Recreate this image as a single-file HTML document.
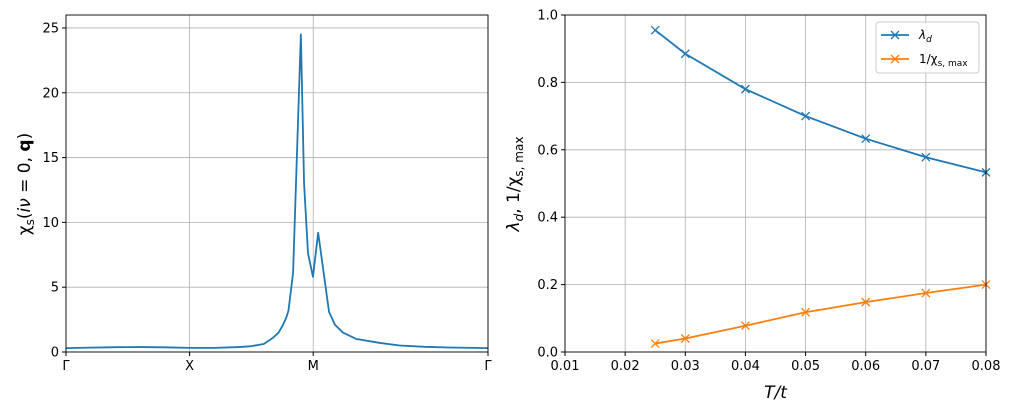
<!DOCTYPE html>
<html><head><meta charset="utf-8"><style>
body{margin:0;background:#fff;}
svg{display:block;font-family:"DejaVu Sans","Liberation Sans",sans-serif;}
</style></head><body>
<svg id="fig" width="1011" height="411"></svg>
<script>
// Left chart data: path coordinate (Γ=0, X=1, M=2, Γ=2+√2) and susceptibility
const leftPath = [0,0.2,0.4,0.6,0.8,1.0,1.2,1.4,1.5,1.6,1.675,1.72,1.756,1.78,1.80,1.837,1.90,1.926,1.958,1.998,2.04,2.128,2.176,2.24,2.35,2.54,2.7,2.9,3.1,3.3,3.414];
const leftChi  = [0.3,0.34,0.37,0.38,0.36,0.32,0.32,0.38,0.45,0.62,1.1,1.5,2.1,2.6,3.2,6.1,24.5,13,7.6,5.8,9.2,3.1,2.1,1.5,1.0,0.7,0.5,0.4,0.35,0.32,0.3];
const leftTickPos = [0,1,2,3.414];
const leftTickLabels = ["Γ","X","M","Γ"];
const leftYTicks = [0,5,10,15,20,25];
// Right chart data
const temps = [0.025,0.03,0.04,0.05,0.06,0.07,0.08];
const lambdaD = [0.955,0.885,0.78,0.70,0.633,0.578,0.533];
const invChi = [0.025,0.04,0.078,0.118,0.148,0.175,0.2];
const rightXTicks = [0.01,0.02,0.03,0.04,0.05,0.06,0.07,0.08];
const rightYTicks = [0,0.2,0.4,0.6,0.8,1.0];

const NS="http://www.w3.org/2000/svg";
const svg=document.getElementById('fig');
function mk(tag,attrs,parent){const e=document.createElementNS(NS,tag);for(const k in attrs)e.setAttribute(k,attrs[k]);(parent||svg).appendChild(e);return e;}

// Left axes
const L={x0:66,x1:488,y0:352,y1:15};
const lx=v=>L.x0+(v-0)/(3.414-0)*(L.x1-L.x0);
const ly=v=>L.y0-(v-0)/26*(L.y0-L.y1);
const gL=mk('g',{});


leftTickPos.forEach((p,i)=>{
  const gl=mk('line',{x1:lx(p),x2:lx(p),y1:L.y1,y2:L.y0,stroke:'#b0b0b0','stroke-width':0.8},gL);
  
  
  mk('line',{x1:lx(p),x2:lx(p),y1:L.y0,y2:L.y0+4,stroke:'#000'},gL);
  const t=mk('text',{x:lx(p),y:L.y0+18,'text-anchor':'middle','font-size':13},gL);
  t.textContent=leftTickLabels[i];
  
  
});
leftYTicks.forEach(v=>{
  const gl=mk('line',{x1:L.x0,x2:L.x1,y1:ly(v),y2:ly(v),stroke:'#b0b0b0','stroke-width':0.8},gL);
  
  
  mk('line',{x1:L.x0-4,x2:L.x0,y1:ly(v),y2:ly(v),stroke:'#000'},gL);
  const t=mk('text',{x:L.x0-7,y:ly(v)+4.5,'text-anchor':'end','font-size':13},gL);
  t.textContent=String(v);
  
  
});
const lp=mk('polyline',{points:leftPath.map((p,i)=>lx(p)+','+ly(leftChi[i])).join(' '),fill:'none',stroke:'#1f77b4','stroke-width':1.8,'stroke-linejoin':'round'},gL);


const lf=mk('rect',{x:L.x0,y:L.y1,width:L.x1-L.x0,height:L.y0-L.y1,fill:'none',stroke:'#000','stroke-width':0.9},gL);


const lyt=mk('text',{transform:'translate(30,184) rotate(-90)','text-anchor':'middle','font-size':17},gL);
lyt.innerHTML='χ<tspan font-size="12" dy="4">s</tspan><tspan dy="-4">(</tspan><tspan font-style="italic">iν</tspan> = 0, <tspan font-weight="bold">q</tspan>)';



// Right axes
const R={x0:565,x1:986,y0:352,y1:15};
const rx=v=>R.x0+(v-0.01)/0.07*(R.x1-R.x0);
const ry=v=>R.y0-v*(R.y0-R.y1);
const gR=mk('g',{});


rightXTicks.forEach(v=>{
  const gl=mk('line',{x1:rx(v),x2:rx(v),y1:R.y1,y2:R.y0,stroke:'#b0b0b0','stroke-width':0.8},gR);
  
  
  mk('line',{x1:rx(v),x2:rx(v),y1:R.y0,y2:R.y0+4,stroke:'#000'},gR);
  const t=mk('text',{x:rx(v),y:R.y0+18,'text-anchor':'middle','font-size':13},gR);
  t.textContent=v.toFixed(2);
  
  
});
rightYTicks.forEach(v=>{
  const gl=mk('line',{x1:R.x0,x2:R.x1,y1:ry(v),y2:ry(v),stroke:'#b0b0b0','stroke-width':0.8},gR);
  
  
  mk('line',{x1:R.x0-4,x2:R.x0,y1:ry(v),y2:ry(v),stroke:'#000'},gR);
  const t=mk('text',{x:R.x0-7,y:ry(v)+4.5,'text-anchor':'end','font-size':13},gR);
  t.textContent=v.toFixed(1);
  
  
});
function series(vals,color,name){
  const g=mk('g',{},gR);
  
  
  mk('polyline',{points:temps.map((t,i)=>rx(t)+','+ry(vals[i])).join(' '),fill:'none',stroke:color,'stroke-width':1.8},g);
  temps.forEach((t,i)=>{
    const x=rx(t),y=ry(vals[i]);
    const m=mk('path',{d:`M${x-4},${y-4}L${x+4},${y+4}M${x-4},${y+4}L${x+4},${y-4}`,stroke:color,'stroke-width':1.3},g);
    
    
  });
}
series(lambdaD,'#1f77b4','lambda-d-series');
series(invChi,'#ff7f0e','inverse-chi-series');
const rf=mk('rect',{x:R.x0,y:R.y1,width:R.x1-R.x0,height:R.y0-R.y1,fill:'none',stroke:'#000','stroke-width':0.9},gR);


const rxt=mk('text',{x:(R.x0+R.x1)/2,y:398,'text-anchor':'middle','font-size':17,'font-style':'italic'},gR);
rxt.textContent='T/t';


const ryt=mk('text',{transform:'translate(519,184) rotate(-90)','text-anchor':'middle','font-size':17},gR);
ryt.innerHTML='<tspan font-style="italic">λ</tspan><tspan font-size="12" dy="4" font-style="italic">d</tspan><tspan dy="-4">, 1/χ</tspan><tspan font-size="12" dy="4">s, max</tspan>';



// Legend
const lg=mk('g',{},gR);


mk('rect',{x:876,y:22,width:103,height:51,rx:3,fill:'#fff','fill-opacity':0.8,stroke:'#ccc'},lg);
[['#1f77b4',35,'λ','d'],['#ff7f0e',59,'1/χ','s, max']].forEach(([c,y,a,b])=>{
  const e=mk('g',{},lg);
  
  
  mk('line',{x1:881,x2:909,y1:y,y2:y,stroke:c,'stroke-width':1.8},e);
  mk('path',{d:`M891,${y-4}L899,${y+4}M891,${y+4}L899,${y-4}`,stroke:c,'stroke-width':1.3},e);
  const t=mk('text',{x:919,y:y+4,'font-size':12},e);
  t.innerHTML=(a==='λ'?'<tspan font-style="italic">λ</tspan><tspan font-size="9" dy="3" font-style="italic">d</tspan>':'1/χ<tspan font-size="9" dy="3">s, max</tspan>');
});
</script>
</body></html>
